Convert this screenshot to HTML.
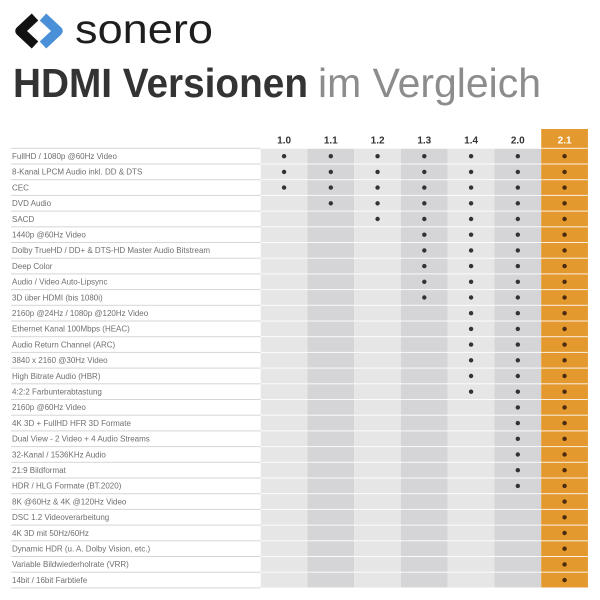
<!DOCTYPE html>
<html>
<head>
<meta charset="utf-8">
<style>
html,body{margin:0;padding:0;background:#fff;}
svg{display:block;}
text{font-family:"Liberation Sans",sans-serif;}
</style>
</head>
<body>
<svg width="600" height="600" viewBox="0 0 600 600" xmlns="http://www.w3.org/2000/svg">
<rect width="600" height="600" fill="#fff"/>
<!-- logo -->
<path d="M35,17 L20,31 L35,45" fill="none" stroke="#111" stroke-width="9.5" stroke-linejoin="round"/>
<path d="M43,17 L58,31 L43,45" fill="none" stroke="#4a90d9" stroke-width="9.5" stroke-linejoin="round"/>
<text x="75" y="43" font-size="41" fill="#1e1e1e" textLength="138" lengthAdjust="spacingAndGlyphs">sonero</text>
<!-- title -->
<text x="13" y="97" font-size="41" font-weight="bold" fill="#333" textLength="295" lengthAdjust="spacingAndGlyphs">HDMI Versionen</text>
<text x="318" y="97" font-size="41" fill="#8c8c8c" textLength="223" lengthAdjust="spacingAndGlyphs">im Vergleich</text>

<!-- columns -->
<rect x="260.7" y="148.3" width="46.75" height="439.6" fill="#e6e6e6"/>
<rect x="307.45" y="148.3" width="46.75" height="439.6" fill="#d5d5d7"/>
<rect x="354.2" y="148.3" width="46.75" height="439.6" fill="#e6e6e6"/>
<rect x="400.95" y="148.3" width="46.75" height="439.6" fill="#d5d5d7"/>
<rect x="447.7" y="148.3" width="46.75" height="439.6" fill="#e6e6e6"/>
<rect x="494.45" y="148.3" width="46.75" height="439.6" fill="#d5d5d7"/>
<rect x="541.2" y="129" width="46.75" height="458.9" fill="#e4992f"/>

<!-- headers -->
<g font-size="10" font-weight="bold" fill="#333" text-anchor="middle">
<text x="284.1" y="143.5">1.0</text>
<text x="330.8" y="143.5">1.1</text>
<text x="377.6" y="143.5">1.2</text>
<text x="424.3" y="143.5">1.3</text>
<text x="471.1" y="143.5">1.4</text>
<text x="517.8" y="143.5">2.0</text>
<text x="564.6" y="143.5" fill="#fff">2.1</text>
</g>

<g id="rows"></g>
</svg>
<script>
(function(){
var labels=["FullHD / 1080p @60Hz Video","8-Kanal LPCM Audio inkl. DD & DTS","CEC","DVD Audio","SACD","1440p @60Hz Video","Dolby TrueHD / DD+ & DTS-HD Master Audio Bitstream","Deep Color","Audio / Video Auto-Lipsync","3D über HDMI (bis 1080i)","2160p @24Hz / 1080p @120Hz Video","Ethernet Kanal 100Mbps (HEAC)","Audio Return Channel (ARC)","3840 x 2160 @30Hz Video","High Bitrate Audio (HBR)","4:2:2 Farbunterabtastung","2160p @60Hz Video","4K 3D + FullHD HFR 3D Formate","Dual View - 2 Video + 4 Audio Streams","32-Kanal / 1536KHz Audio","21:9 Bildformat","HDR / HLG Formate (BT.2020)","8K @60Hz & 4K @120Hz Video","DSC 1.2 Videoverarbeitung","4K 3D mit 50Hz/60Hz","Dynamic HDR (u. A. Dolby Vision, etc.)","Variable Bildwiederholrate (VRR)","14bit / 16bit Farbtiefe"];
// first column index where feature supported: 0=1.0 ... 6=2.1
var start=[0,0,0,1,2,3,3,3,3,3,4,4,4,4,4,4,5,5,5,5,5,5,6,6,6,6,6,6];
var ns="http://www.w3.org/2000/svg";
var g=document.getElementById("rows");
var x0=260.7,cw=46.75,y0=148.3,rh=15.7;
function el(n,a,t){var e=document.createElementNS(ns,n);for(var k in a)e.setAttribute(k,a[k]);if(t)e.textContent=t;g.appendChild(e);return e;}
for(var i=0;i<=28;i++){
 var y=y0+i*rh;
 el("rect",{x:11,y:y-0.5,width:x0-11,height:1,fill:"#d6d6d6"});
 el("rect",{x:x0,y:y-0.5,width:cw*7,height:1,fill:"rgba(255,255,255,0.85)"});
}
for(var i=0;i<28;i++){
 var y=y0+i*rh;
 el("text",{x:12,y:y+10.7,"font-size":"8",fill:"#6f6f6f"},labels[i]);
 for(var c=start[i];c<7;c++){
  el("circle",{cx:x0+cw*c+cw/2,cy:y+7.9,r:2.2,fill:c==6?"#4a2a10":"#333"});
 }
}
})();
</script>
</body>
</html>
